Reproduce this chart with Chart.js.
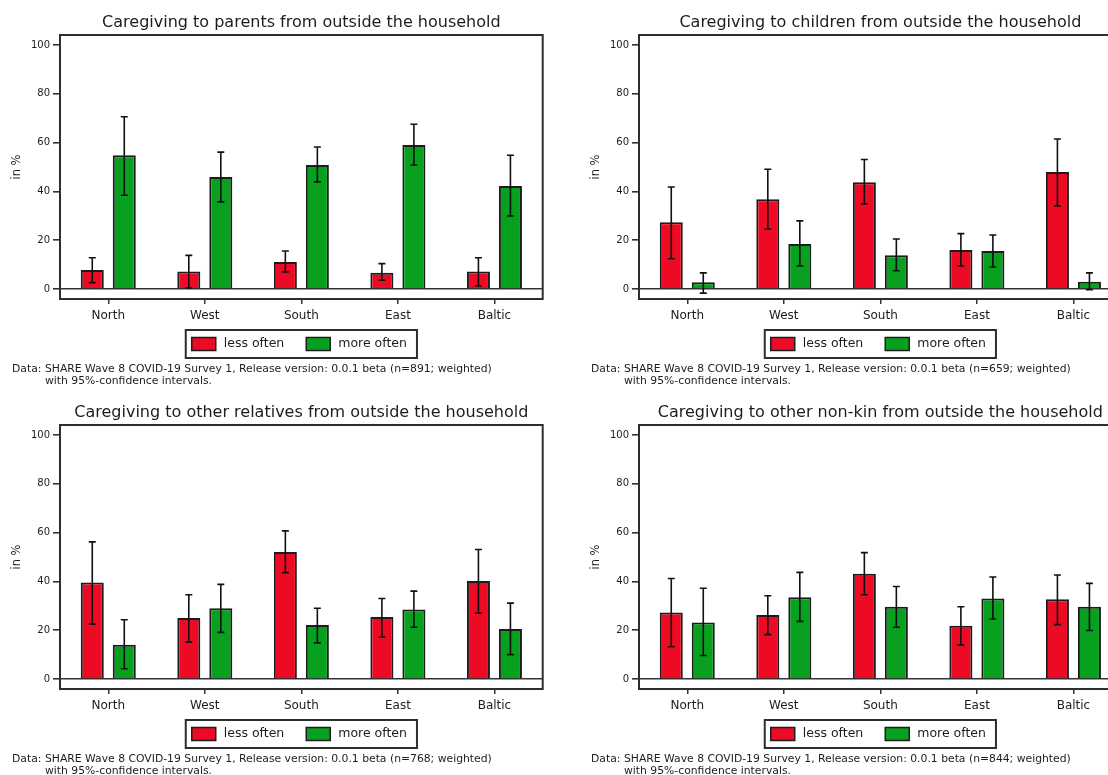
<!DOCTYPE html>
<html>
<head>
<meta charset="utf-8">
<script src="https://cdn.jsdelivr.net/npm/chart.js@4.4.1/dist/chart.umd.min.js"></script>
<style>
html, body { margin: 0; padding: 0; background: #fff; overflow: hidden; width: 1108px; height: 775px; }
.panel { position: absolute; width: 579px; height: 390px; }
</style>
</head>
<body>
<div class="panel" style="left:0;top:0"><canvas id="c0" width="579" height="390"></canvas></div>
<div class="panel" style="left:579px;top:0"><canvas id="c1" width="579" height="390"></canvas></div>
<div class="panel" style="left:0;top:390px"><canvas id="c2" width="579" height="390"></canvas></div>
<div class="panel" style="left:579px;top:390px"><canvas id="c3" width="579" height="390"></canvas></div>
<script>
// --- DATA ---
const REGIONS = ['North', 'West', 'South', 'East', 'Baltic'];
const SERIES = ['less often', 'more often'];
const TITLES = [
    'Caregiving to parents from outside the household',
    'Caregiving to children from outside the household',
    'Caregiving to other relatives from outside the household',
    'Caregiving to other non-kin from outside the household'
];
const SAMPLE_N = [891, 659, 768, 844];
const Y_TICKS = [0, 20, 40, 60, 80, 100];

// share in %, with 95% CI as [low, high]
const parentsLess = [7.8, 7.2, 11.1, 6.7, 7.2];
const parentsLessCI = [[2.6, 12.8], [0.4, 13.8], [7.0, 15.6], [3.6, 10.4], [1.2, 12.8]];
const parentsMore = [54.8, 45.9, 50.8, 59.0, 42.2];
const parentsMoreCI = [[38.4, 70.6], [35.7, 56.1], [43.9, 58.2], [50.8, 67.5], [29.9, 54.8]];

const childrenLess = [27.4, 36.8, 43.7, 16.0, 48.0];
const childrenLessCI = [[12.4, 41.8], [24.6, 49.1], [34.9, 53.1], [9.4, 22.7], [34.0, 61.5]];
const childrenMore = [2.8, 18.4, 13.8, 15.6, 3.0];
const childrenMoreCI = [[-1.7, 6.6], [9.4, 27.9], [7.5, 20.5], [9.0, 22.1], [-0.3, 6.6]];

const relativesLess = [39.5, 25.0, 52.1, 25.4, 40.2];
const relativesLessCI = [[22.5, 56.2], [15.1, 34.5], [43.6, 60.7], [17.2, 33.0], [27.0, 53.1]];
const relativesMore = [14.0, 29.0, 22.1, 28.5, 20.5];
const relativesMoreCI = [[4.2, 24.3], [19.1, 38.8], [14.8, 29.0], [21.2, 36.0], [10.0, 31.1]];

const nonkinLess = [27.3, 26.2, 43.1, 21.8, 32.7];
const nonkinLessCI = [[13.2, 41.2], [18.2, 34.1], [34.5, 51.8], [14.0, 29.6], [22.3, 42.6]];
const nonkinMore = [23.2, 33.5, 29.6, 33.0, 29.6];
const nonkinMoreCI = [[9.6, 37.2], [23.6, 43.7], [21.2, 37.9], [24.6, 41.8], [19.9, 39.2]];

const PANELS = [
    [parentsLess, parentsLessCI, parentsMore, parentsMoreCI],
    [childrenLess, childrenLessCI, childrenMore, childrenMoreCI],
    [relativesLess, relativesLessCI, relativesMore, relativesMoreCI],
    [nonkinLess, nonkinLessCI, nonkinMore, nonkinMoreCI]
];

// --- STYLE ---
const FONT = 'DejaVu Sans';
const RED = '#EC0A24';
const GREEN = '#07A01F';
const INK = '#1c1c1c';

// error bars, frame, title, legend box and the data note
const stataLook = {
    id: 'stataLook',
    afterDatasetsDraw(chart) {
        const { ctx, chartArea: a, scales: { y } } = chart;
        ctx.save();
        ctx.strokeStyle = '#111';
        ctx.lineWidth = 1.6;
        chart.data.datasets.forEach((ds, i) => {
            chart.getDatasetMeta(i).data.forEach((bar, j) => {
                const yl = y.getPixelForValue(ds.ci[j][0]);
                const yh = y.getPixelForValue(ds.ci[j][1]);
                ctx.beginPath();
                ctx.moveTo(bar.x, yl); ctx.lineTo(bar.x, yh);
                ctx.moveTo(bar.x - 3.5, yl); ctx.lineTo(bar.x + 3.5, yl);
                ctx.moveTo(bar.x - 3.5, yh); ctx.lineTo(bar.x + 3.5, yh);
                ctx.stroke();
            });
        });
        ctx.strokeStyle = '#2e2e2e';
        ctx.lineWidth = 2;
        ctx.strokeRect(a.left, a.top, a.width, a.height);
        ctx.restore();
    },
    afterDraw(chart, args, opts) {
        const { ctx, chartArea: a } = chart;
        const cx = (a.left + a.right) / 2;
        ctx.save();
        ctx.fillStyle = INK;
        ctx.textBaseline = 'middle';

        // title
        ctx.font = `16px ${FONT}`;
        ctx.textAlign = 'center';
        ctx.fillText(opts.title, cx, a.top - 12);

        // legend
        ctx.font = `12.5px ${FONT}`;
        ctx.textAlign = 'left';
        const sw = 24, sh = 13, gap = 8;
        const items = chart.data.datasets.map(ds => ({ ds, tw: ctx.measureText(ds.label).width }));
        const boxW = 6 + items.reduce((s, it) => s + sw + gap + it.tw, 0) + 22 + 10;
        const boxTop = a.bottom + 31, boxH = 28;
        let x = cx - boxW / 2;
        ctx.strokeStyle = '#2e2e2e';
        ctx.lineWidth = 2;
        ctx.strokeRect(x, boxTop, boxW, boxH);
        x += 6;
        const ly = boxTop + boxH / 2;
        items.forEach(it => {
            ctx.fillStyle = it.ds.backgroundColor;
            ctx.fillRect(x, ly - sh / 2, sw, sh);
            ctx.lineWidth = 1.5;
            ctx.strokeStyle = '#1c1c1c';
            ctx.strokeRect(x, ly - sh / 2, sw, sh);
            ctx.fillStyle = INK;
            ctx.fillText(it.ds.label, x + sw + gap, ly);
            x += sw + gap + it.tw + 22;
        });

        // note
        ctx.font = `10.8px ${FONT}`;
        ctx.fillText('Data:', a.left - 48, a.bottom + 70);
        ctx.fillText(`SHARE Wave 8 COVID-19 Survey 1, Release version: 0.0.1 beta (n=${opts.n}; weighted)`, a.left - 15, a.bottom + 70);
        ctx.fillText('with 95%-confidence intervals.', a.left - 15, a.bottom + 82);
        ctx.restore();
    }
};

function makeChart(idx) {
    const [less, lessCI, more, moreCI] = PANELS[idx];
    const ctx = document.getElementById(`c${idx}`).getContext('2d');
    return new Chart(ctx, {
        type: 'bar',
        data: {
            labels: REGIONS,
            datasets: [
                { label: SERIES[0], data: less, ci: lessCI, backgroundColor: RED },
                { label: SERIES[1], data: more, ci: moreCI, backgroundColor: GREEN }
            ]
        },
        options: {
            responsive: false,
            animation: false,
            layout: { padding: { top: 35, right: 36.3, left: 0, bottom: 0 } },
            datasets: {
                bar: {
                    borderColor: '#1c1c1c',
                    borderWidth: 2,
                    categoryPercentage: 0.663,
                    barPercentage: 0.72
                }
            },
            plugins: {
                legend: { display: false },
                title: { display: false },
                tooltip: { enabled: false },
                stataLook: { title: TITLES[idx], n: SAMPLE_N[idx] }
            },
            scales: {
                x: {
                    afterFit: s => { s.height = 91; },
                    border: { display: false },
                    grid: { drawOnChartArea: false, offset: false, tickLength: 5, tickColor: '#333', lineWidth: 1.5 },
                    ticks: { color: INK, padding: 5, font: { family: FONT, size: 12 } }
                },
                y: {
                    min: -4.1,
                    max: 104.1,
                    afterFit: s => { s.width = 60; },
                    afterBuildTicks: s => { s.ticks = Y_TICKS.map(v => ({ value: v })); },
                    border: { display: false },
                    grid: {
                        color: c => (c.tick && c.tick.value === 0) ? '#333' : 'rgba(0,0,0,0)',
                        tickColor: '#333',
                        tickLength: 7,
                        lineWidth: 1.6
                    },
                    ticks: { color: INK, padding: 3, font: { family: FONT, size: 10 } },
                    title: { display: true, text: 'in %', color: INK, padding: { top: 10, bottom: 0 }, font: { family: FONT, size: 11.5 } }
                }
            }
        },
        plugins: [stataLook]
    });
}

[0, 1, 2, 3].forEach(makeChart);
</script>
</body>
</html>
